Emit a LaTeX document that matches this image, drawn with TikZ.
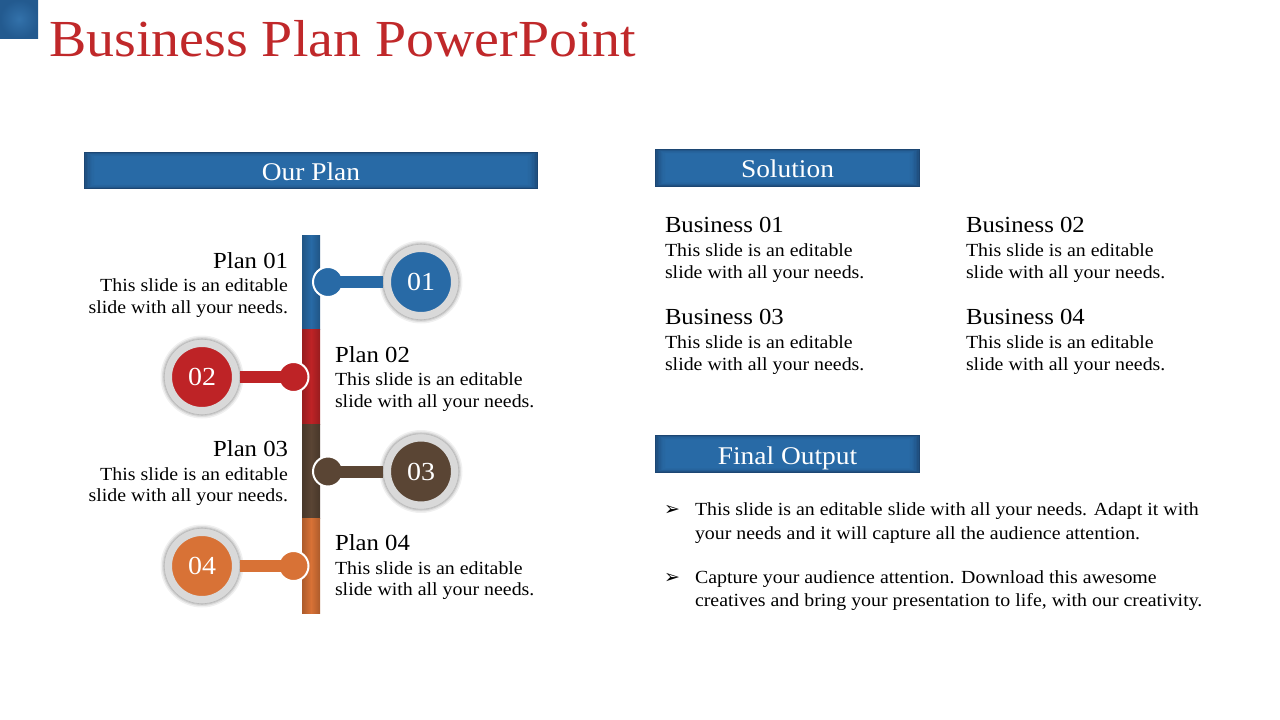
\documentclass[tikz,border=0pt]{standalone}
\usepackage{fontspec}
\setmainfont{Liberation Serif}[FakeStretch=1.075]
\newfontfamily\djv{DejaVu Sans}
\usetikzlibrary{calc}
\definecolor{hblue}{RGB}{40,106,166}
\definecolor{hdark}{RGB}{28,70,115}
\definecolor{cblue}{RGB}{40,106,166}
\definecolor{cred}{RGB}{190,35,38}
\definecolor{cbrown}{RGB}{90,69,52}
\definecolor{corange}{RGB}{216,114,54}
\definecolor{tred}{RGB}{192,40,42}
\definecolor{ringgray}{RGB}{217,217,217}
\newcommand{\glowbox}[4]{%
  \fill[hdark] (#1,#2) rectangle (#3,#4);
  \foreach \d/\m in {1/30,2/48,3/62,4/74,5/84,6/91,7/96,8/100}{
    \fill[hblue!\m!hdark] ({#1+1.4*\d},{#2+0.6*\d}) rectangle ({#3-1.4*\d},{#4-0.6*\d});
  }
}
\tikzset{
  txt/.style={inner sep=0, outer sep=0, font=\fontsize{18.5}{22}\selectfont},
  ttl/.style={inner sep=0, outer sep=0, font=\fontsize{23}{27}\selectfont},
  hdr/.style={inner sep=0, outer sep=0, text=white, font=\fontsize{25.5}{30}\selectfont},
  ring/.style={circle, inner sep=0, minimum size=68, line width=8, draw=ringgray, text=white, font=\fontsize{26}{30}\selectfont},
  knob/.style={circle, inner sep=0, minimum size=30, line width=2, draw=white},
  conn/.style={line width=12},
  bullet/.style={inner sep=0, outer sep=0, font=\djv\fontsize{19}{22}\selectfont},
}
\begin{document}
\begin{tikzpicture}[x=1pt,y=-1pt]
\useasboundingbox (0,0) rectangle (1280,720);
\fill[white] (0,0) rectangle (1280,720);
% corner square
\shade[inner color=hblue!95!white, outer color=hblue!55!hdark] (0,0) rectangle (38,38);
% title
\node[inner sep=0, anchor=base west, text=tred, font=\fontsize{52}{60}\selectfont] (title) at (49,56.7) {Business Plan PowerPoint};
% headers
\glowbox{84}{152}{538}{189}
\node[hdr, anchor=base] (hplan) at (311,180.7) {Our Plan};
\glowbox{655}{149}{920}{186.5}
\node[hdr, anchor=base] (hsol) at (787.5,177.7) {Solution};
\glowbox{655}{435}{920}{472.5}
\node[hdr, anchor=base] (hout) at (787.5,464.3) {Final Output};
% vertical bar
\foreach \col/\ya/\yb in {cblue/235/329, cred/329/424, cbrown/424/518, corange/518/613}{
  \shade[left color=\col!80!black, right color=\col!80!black, middle color=\col] (302,\ya) rectangle (320,\yb);
}
% circles, knobs and connectors
\foreach \n/\cx/\cy/\kx/\col in {01/421/282/328/cblue, 02/202/377/293.5/cred, 03/421/471.5/328/cbrown, 04/202/566/293.5/corange}{
  \fill[black, opacity=0.06] (\cx,\cy) circle (41.5);
  \fill[black, opacity=0.08] (\cx,\cy) circle (40);
  \fill[black, opacity=0.10] (\cx,\cy) circle (38.8);
  \node[ring, fill=\col] (c\n) at (\cx,\cy) {\n};
  \draw[gray!55, line width=0.6] (\cx,\cy) circle (37.7);
  \node[knob, fill=\col] (k\n) at (\kx,\cy) {};
  \draw[conn, \col] (k\n.center) -- (c\n);
}
% plan texts
\foreach \k/\yy in {01/268, 03/456.6}{
  \node[ttl, anchor=base east] (pt\k) at (288,\yy) {Plan \k};
  \node[txt, anchor=base east] (pa\k) at (288,\yy+23.5) {This slide is an editable};
  \node[txt, anchor=base east] (pb\k) at (288,\yy+45) {slide with all your needs.};
}
\foreach \k/\yy in {02/362.3, 04/550.8}{
  \node[ttl, anchor=base west] (pt\k) at (335,\yy) {Plan \k};
  \node[txt, anchor=base west] (pa\k) at (335,\yy+23.5) {This slide is an editable};
  \node[txt, anchor=base west] (pb\k) at (335,\yy+45) {slide with all your needs.};
}
% business texts
\foreach \k/\xx/\yy in {01/665/232.7, 02/966/232.7, 03/665/324.3, 04/966/324.3}{
  \node[ttl, anchor=base west] (bt\k) at (\xx,\yy) {Business \k};
  \node[txt, anchor=base west] (ba\k) at (\xx,\yy+24) {This slide is an editable};
  \node[txt, anchor=base west] (bb\k) at (\xx,\yy+45.7) {slide with all your needs.};
}
% final output bullets
\node[bullet] (bul1) at (672,510.5) {➢};
\node[bullet] (bul2) at (672,578) {➢};
\node[txt, anchor=base west] (o1a) at (695,515.7) {This slide is an editable slide with all your needs. Adapt it with};
\node[txt, anchor=base west] (o1b) at (695,539) {your needs and it will capture all the audience attention.};
\node[txt, anchor=base west] (o2a) at (695,583.3) {Capture your audience attention. Download this awesome};
\node[txt, anchor=base west] (o2b) at (695,606.7) {creatives and bring your presentation to life, with our creativity.};
\end{tikzpicture}
\end{document}
